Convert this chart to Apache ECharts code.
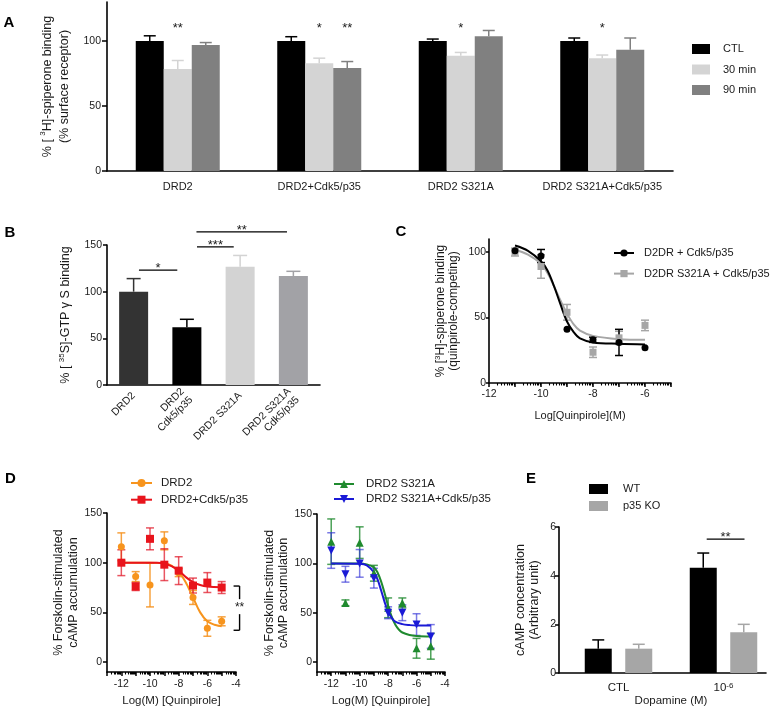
<!DOCTYPE html>
<html><head><meta charset="utf-8">
<script src="https://cdn.jsdelivr.net/npm/echarts@6/dist/echarts.min.js"></script>
<style>html,body{margin:0;padding:0;background:#fff}#c{width:775px;height:712px}</style>
</head><body><div id="c"></div>
<script>
// ---------------- DATA ----------------
// Panel A
const aCategories = ['DRD2', 'DRD2+Cdk5/p35', 'DRD2 S321A', 'DRD2 S321A+Cdk5/p35'];
const aNames = ['CTL', '30 min', '90 min'];
const aCTL = [100, 100, 100, 100];
const aCTLErr = [4, 3.3, 1.5, 2.3];
const a30 = [78.5, 82.8, 88.7, 86.7];
const a30Err = [6.5, 4, 2.5, 2.5];
const a90 = [97, 79.2, 103.6, 93.3];
const a90Err = [1.8, 5, 4.5, 9];
const aYTicks = [0, 50, 100];
const aStarCat = [0, 1, 1, 2, 3];
const aStarBar = [1, 1, 2, 1, 1];
const aStarText = ['**', '*', '**', '*', '*'];
const aStarLevel = [112, 112, 112, 112, 112];

// Panel B
const bCategories = ['DRD2', 'DRD2\nCdk5/p35', 'DRD2 S321A', 'DRD2 S321A\nCdk5/p35'];
const bValues = [100, 61.8, 126.8, 116.8];
const bErr = [14, 8.6, 12, 5];
const bYTicks = [0, 50, 100, 150];
const bSigFrom = [0.1, 1.19, 1.18];
const bSigTo = [0.82, 1.88, 2.88];
const bSigY = [123, 148, 164];
const bSigText = ['*', '***', '**'];

// Panel C
const cX = [-11, -10, -9, -8, -7, -6];
const cBlack = [101, 97, 41, 33, 31, 27];
const cBlackErr = [0, 5, 0, 2, 10, 0];
const cGray = [100, 89, 54, 23.5, 34.5, 44];
const cGrayErr = [3, 9, 6, 4, 5, 4];
const cBlackCurveX = [-11, -10.5, -10, -9.75, -9.5, -9.25, -9, -8.75, -8.5, -8, -7, -6];
const cBlackCurveY = [105, 101, 93, 86, 74, 60, 47, 39, 34, 31, 30, 29.5];
const cGrayCurveX = [-11, -10.5, -10, -9.75, -9.5, -9.25, -9, -8.75, -8.5, -8, -7, -6];
const cGrayCurveY = [102, 98, 91, 84, 74, 63, 53, 45, 40, 36, 33.5, 33];
const cXLabels = [-12, -10, -8, -6];
const cXMajor = [-12, -11, -10, -9, -8, -7, -6, -5];
const cYTicks = [0, 50, 100];

// Panel D
const dX = [-12, -11, -10, -9, -8, -7, -6, -5];
const dOrange = [116, 86, 77.5, 122, 90, 65, 34, 41];
const dOrangeErr = [14, 5, 22, 9, 4, 7, 8, 4.5];
const dRed = [100, 76, 124, 98, 92, 77, 80, 75];
const dRedErr = [13, 4, 11, 16, 14, 7.5, 10, 6];
const dGreen = [122, 60, 121, 90, 55, 60, 14, 16];
const dGreenErr = [23, 3, 16, 8, 10, 5, 10, 13];
const dBlue = [113, 89, 100, 85, 50, 50, 38, 26];
const dBlueErr = [18, 8, 14, 10, 6, 8, 11, 12];
const dOrangeCurveX = [-12, -10, -9, -8.5, -8, -7.5, -7, -6.5, -6, -5.5, -5];
const dOrangeCurveY = [100, 100, 99.5, 97, 91, 80, 65, 50, 41, 37.5, 36];
const dRedCurveX = [-12, -9.5, -9, -8.5, -8, -7.5, -7, -6.5, -6, -5];
const dRedCurveY = [100, 100, 99, 96.5, 92, 85.5, 80.5, 77.5, 76, 75.3];
const dGreenCurveX = [-12, -10, -9.5, -9, -8.75, -8.5, -8.25, -8, -7.75, -7.5, -7.25, -7, -6.5, -6, -5];
const dGreenCurveY = [100, 100, 99, 96, 91, 82, 70, 57, 46, 38, 33, 30, 27.5, 26.5, 26];
const dBlueCurveX = [-12, -10, -9.5, -9, -8.75, -8.5, -8.25, -8, -7.75, -7.5, -7, -6.5, -6, -5];
const dBlueCurveY = [100, 99.5, 98, 91, 84, 73, 61, 51, 45, 41, 38.5, 37.5, 37, 37];
const dXLabels = [-12, -10, -8, -6, -4];
const dXMajor = [-13, -12, -11, -10, -9, -8, -7, -6, -5, -4];
const dYTicks = [0, 50, 100, 150];
const dBracket = [[-3.75, 76.5, 32]];
const dBracketText = ['**'];

// Panel E
const eCategories = ['CTL', '10^-6'];
const eWT = [1.0, 4.33];
const eWTErr = [0.36, 0.6];
const eKO = [1.0, 1.67];
const eKOErr = [0.18, 0.33];
const eYTicks = [0, 2, 4, 6];
const eSigFrom = [0.84];
const eSigTo = [1.2];
const eSigY = [5.5];
const eSigText = ['**'];

// ---------------- HELPERS ----------------
const FONT = 'Liberation Sans, Arial, sans-serif';
const INK = '#1a1a1a';
const zip2 = (xs, ys) => xs.map((x, i) => [x, ys[i]]);
const zip3 = (xs, ys, es) => xs.map((x, i) => [x, ys[i], es[i]]);
const idx = arr => arr.map((_, i) => i);
function logMinor(min, max) {
  const out = [];
  for (let d = Math.floor(min); d < max; d++) {
    for (let k = 2; k <= 9; k++) {
      const v = d + Math.log10(k);
      if (v > min && v < max) out.push(+v.toFixed(4));
    }
  }
  return out;
}
const axisLine = { show: true, onZero: false, lineStyle: { color: '#000', width: 1.6 } };
const tickStyle = { color: '#000', width: 1.5 };
const supRich = { sup: { fontSize: 8, lineHeight: 8, verticalAlign: 'top', fontFamily: FONT, color: INK } };

function errorBars(xi, yi, data, color, offset, cap, up, z) {
  return {
    type: 'custom', xAxisIndex: xi, yAxisIndex: yi, clip: false, silent: true, z: z || 2,
    data: data,
    renderItem: function (params, api) {
      const x = api.value(0), y = api.value(1), e = api.value(2);
      if (!e) return null;
      const c = typeof color === 'function' ? color(params.dataIndex) : color;
      const p = api.coord([x, y]);
      const cx = p[0] + (offset || 0);
      const t = api.coord([x, y + e])[1];
      const b = up ? p[1] : api.coord([x, y - e])[1];
      const st = { stroke: c, lineWidth: 1.5 };
      const ch = [
        { type: 'line', shape: { x1: cx, y1: b, x2: cx, y2: t }, style: st },
        { type: 'line', shape: { x1: cx - cap, y1: t, x2: cx + cap, y2: t }, style: st }
      ];
      if (!up) ch.push({ type: 'line', shape: { x1: cx - cap, y1: b, x2: cx + cap, y2: b }, style: st });
      return { type: 'group', children: ch };
    }
  };
}
function catPx(api, v) {
  const f = Math.floor(v);
  return api.coord([f, 0])[0] + (v - f) * api.size([1, 0])[0];
}
function sigLines(xi, yi, from, to, ys, texts) {
  return {
    type: 'custom', xAxisIndex: xi, yAxisIndex: yi, clip: false, silent: true, z: 5,
    data: from.map((f, i) => [f, to[i], ys[i]]),
    renderItem: function (params, api) {
      const x1 = catPx(api, api.value(0)), x2 = catPx(api, api.value(1));
      const y = api.coord([0, api.value(2)])[1];
      return { type: 'group', children: [
        { type: 'line', shape: { x1: x1, y1: y, x2: x2, y2: y }, style: { stroke: '#000', lineWidth: 1.3 } },
        { type: 'text', x: (x1 + x2) / 2, y: y - 1.5, style: { text: texts[params.dataIndex], fontSize: 13, fontFamily: FONT, fill: INK, textAlign: 'center', textVerticalAlign: 'middle' } }
      ] };
    }
  };
}
function curve(name, xi, yi, xs, ys, color, symbol, rotate) {
  return { type: 'line', name: name, xAxisIndex: xi, yAxisIndex: yi, data: zip2(xs, ys), smooth: 0.35,
    showSymbol: false, symbol: symbol, symbolSize: 7, symbolRotate: rotate || 0, silent: true,
    lineStyle: { color: color, width: 2 }, itemStyle: { color: color }, z: 3 };
}
function points(name, xi, yi, xs, ys, color, symbol, size, rotate) {
  return { type: 'scatter', name: name, xAxisIndex: xi, yAxisIndex: yi, data: zip2(xs, ys),
    symbol: symbol, symbolSize: size, symbolRotate: rotate || 0, silent: true, itemStyle: { color: color, opacity: 1 }, z: 4 };
}
function valueY(gi, min, max, ticks, opts) {
  return Object.assign({
    gridIndex: gi, type: 'value', min: min, max: max, axisLine: axisLine,
    axisTick: { show: true, length: opts.tick || 4, lineStyle: tickStyle, customValues: ticks },
    axisLabel: { customValues: ticks, fontSize: 10.5, color: INK, margin: opts.margin || 5, fontFamily: FONT },
    splitLine: { show: false },
    nameLocation: 'middle', nameRotate: 90
  }, opts.extra || {});
}
function logX(gi, min, max, labels, major) {
  return [{
    gridIndex: gi, type: 'value', min: min, max: max, axisLine: axisLine,
    axisTick: { show: true, length: 4, lineStyle: tickStyle, customValues: major },
    axisLabel: { customValues: labels, fontSize: 10.5, color: INK, margin: 7, fontFamily: FONT },
    splitLine: { show: false }
  }, {
    gridIndex: gi, type: 'value', min: min, max: max, position: 'bottom',
    axisLine: { show: false, onZero: false },
    axisTick: { show: true, length: 2.5, lineStyle: { color: '#000', width: 1.1 }, customValues: logMinor(min, max) },
    axisLabel: { show: false }, splitLine: { show: false }
  }];
}
const nameStyle = (lh) => ({ fontSize: 12.5, lineHeight: lh, color: INK, fontFamily: FONT, rich: supRich });
const legendText = (pad) => ({ fontSize: 11, lineHeight: 14, color: INK, fontFamily: FONT, padding: [0, 0, 0, pad] });

const aColors = ['#000000', '#d4d4d4', '#808080'];
const bColors = ['#333333', '#000000', '#d3d3d3', '#a2a2a6'];
const eColors = ['#000000', '#a6a6a6'];

// ---------------- OPTION ----------------
const [cX0, cX1] = logX(2, -12, -5, cXLabels, cXMajor);
const [d1X0, d1X1] = logX(3, -13, -4, dXLabels, dXMajor);
const [d2X0, d2X1] = logX(4, -13, -4, dXLabels, dXMajor);
cX0.axisLabel.margin = 6;
cX0.name = 'Log[Quinpirole](M)'; cX0.nameLocation = 'middle'; cX0.nameGap = 27;
cX0.nameTextStyle = { fontSize: 11, color: INK, fontFamily: FONT };
[d1X0, d2X0].forEach(a => { a.name = 'Log(M) [Quinpirole]'; a.nameLocation = 'middle'; a.nameGap = 23; a.nameTextStyle = { fontSize: 11.5, color: INK, fontFamily: FONT }; });

const option = {
  animation: false,
  textStyle: { fontFamily: FONT },
  grid: [
    { left: 107, top: 2, width: 566, height: 169, outerBoundsMode: 'none' },
    { left: 107, top: 245, width: 213, height: 140, outerBoundsMode: 'none' },
    { left: 489, top: 239, width: 182, height: 144, outerBoundsMode: 'none' },
    { left: 107, top: 513, width: 129, height: 159, outerBoundsMode: 'none' },
    { left: 317, top: 514, width: 128, height: 158, outerBoundsMode: 'none' },
    { left: 559, top: 527, width: 207, height: 146, outerBoundsMode: 'none' },
    { left: 566, top: 527, width: 210, height: 146, outerBoundsMode: 'none' }
  ],
  xAxis: [
    { gridIndex: 0, type: 'category', data: aCategories, axisLine: axisLine,
      axisTick: { alignWithLabel: true, length: 5, lineStyle: tickStyle },
      axisLabel: { fontSize: 11, color: INK, margin: 10, interval: 0, fontFamily: FONT } },
    { gridIndex: 1, type: 'category', data: bCategories, axisLine: axisLine,
      axisTick: { alignWithLabel: true, length: 5, lineStyle: tickStyle },
      axisLabel: { fontSize: 10.5, lineHeight: 12, color: INK, margin: 9, interval: 0, rotate: 45, fontFamily: FONT, align: 'right' } },
    cX0, cX1, d1X0, d1X1, d2X0, d2X1,
    { gridIndex: 5, type: 'category', data: eCategories, axisLine: axisLine,
      axisTick: { alignWithLabel: true, length: 4, lineStyle: tickStyle },
      axisLabel: { show: false } },
    { gridIndex: 6, type: 'category', data: eCategories, axisLine: { show: false }, axisTick: { show: false },
      axisLabel: { fontSize: 11.5, color: INK, margin: 9, interval: 0, fontFamily: FONT, rich: supRich,
        formatter: v => v.replace(/\^(\S+)/, '{sup|$1}') },
      name: 'Dopamine (M)', nameLocation: 'middle', nameGap: 20, nameTextStyle: { fontSize: 11.5, color: INK, fontFamily: FONT } }
  ],
  yAxis: [
    valueY(0, 0, 130, aYTicks, { tick: 5, margin: 6, extra: { name: '% [ {sup|3}H]-spiperone binding\n(% surface receptor)', nameGap: 26, nameTextStyle: nameStyle(17) } }),
    valueY(1, 0, 150, bYTicks, { tick: 4, margin: 5, extra: { name: '% [ {sup|35}S]-GTP γ S binding', nameGap: 33, nameTextStyle: nameStyle(16) } }),
    valueY(2, 0, 110, cYTicks, { tick: 3, margin: 3, extra: { name: '% [{sup|3}H]-spiperone binding\n(quinpirole-competing)', nameGap: 29, nameTextStyle: Object.assign(nameStyle(13), { fontSize: 12 }) } }),
    valueY(3, -10, 150, dYTicks, { tick: 4, margin: 5, extra: { name: '% Forskolin-stimulated\ncAMP accumulation', nameGap: 26, nameTextStyle: nameStyle(14.5) } }),
    valueY(4, -10, 150, dYTicks, { tick: 4, margin: 5, extra: { name: '% Forskolin-stimulated\ncAMP accumulation', nameGap: 26, nameTextStyle: nameStyle(14) } }),
    valueY(5, 0, 6, eYTicks, { tick: 4, margin: 3, extra: { name: 'cAMP concentration\n(Arbitrary unit)', nameGap: 17, nameTextStyle: nameStyle(14) } }),
    { gridIndex: 6, type: 'value', min: 0, max: 6, show: false }
  ],
  legend: [
    { data: aNames, left: 692, top: 42, orient: 'vertical', padding: 0, itemGap: 6.5, itemWidth: 18, itemHeight: 10, icon: 'rect', textStyle: legendText(8), selectedMode: false },
    { data: ['D2DR + Cdk5/p35', 'D2DR S321A + Cdk5/p35'], left: 613, top: 246, orient: 'vertical', padding: 0, itemGap: 6.6, itemWidth: 20, itemHeight: 9, textStyle: legendText(5), selectedMode: false },
    { data: ['DRD2', 'DRD2+Cdk5/p35'], left: 130, top: 476, orient: 'vertical', padding: 0, itemGap: 2.7, itemWidth: 21, itemHeight: 10, textStyle: Object.assign(legendText(4), { fontSize: 11.5 }), selectedMode: false },
    { data: ['DRD2 S321A', 'DRD2 S321A+Cdk5/p35'], left: 333, top: 477, orient: 'vertical', padding: 0, itemGap: 1, itemWidth: 20, itemHeight: 10, textStyle: Object.assign(legendText(7), { fontSize: 11.5 }), selectedMode: false },
    { data: ['WT', 'p35 KO'], left: 589, top: 482, orient: 'vertical', padding: 0, itemGap: 3, itemWidth: 19, itemHeight: 10, icon: 'rect', textStyle: legendText(10), selectedMode: false }
  ],
  graphic: [
    { type: 'text', x: 9, y: 23, style: { text: 'A', fontSize: 15, fontWeight: 'bold', fontFamily: FONT, fill: '#000', textAlign: 'center', textVerticalAlign: 'middle' } },
    { type: 'text', x: 10, y: 233, style: { text: 'B', fontSize: 15, fontWeight: 'bold', fontFamily: FONT, fill: '#000', textAlign: 'center', textVerticalAlign: 'middle' } },
    { type: 'text', x: 401, y: 232, style: { text: 'C', fontSize: 15, fontWeight: 'bold', fontFamily: FONT, fill: '#000', textAlign: 'center', textVerticalAlign: 'middle' } },
    { type: 'text', x: 10.5, y: 479, style: { text: 'D', fontSize: 15, fontWeight: 'bold', fontFamily: FONT, fill: '#000', textAlign: 'center', textVerticalAlign: 'middle' } },
    { type: 'text', x: 531, y: 479, style: { text: 'E', fontSize: 15, fontWeight: 'bold', fontFamily: FONT, fill: '#000', textAlign: 'center', textVerticalAlign: 'middle' } }
  ],
  series: [
    // ----- A -----
    { type: 'bar', name: aNames[0], xAxisIndex: 0, yAxisIndex: 0, data: aCTL, barWidth: 28, barGap: '0%', itemStyle: { color: aColors[0] }, silent: true },
    { type: 'bar', name: aNames[1], xAxisIndex: 0, yAxisIndex: 0, data: a30, barWidth: 28, barGap: '0%', itemStyle: { color: aColors[1] }, silent: true },
    { type: 'bar', name: aNames[2], xAxisIndex: 0, yAxisIndex: 0, data: a90, barWidth: 28, barGap: '0%', itemStyle: { color: aColors[2] }, silent: true },
    errorBars(0, 0, zip3(idx(aCTL), aCTL, aCTLErr), aColors[0], -28, 6, true),
    errorBars(0, 0, zip3(idx(a30), a30, a30Err), aColors[1], 0, 6, true),
    errorBars(0, 0, zip3(idx(a90), a90, a90Err), aColors[2], 28, 6, true),
    { type: 'custom', xAxisIndex: 0, yAxisIndex: 0, clip: false, silent: true, z: 5,
      data: aStarCat.map((c, i) => [c, aStarBar[i], aStarLevel[i]]),
      renderItem: function (params, api) {
        const p = api.coord([api.value(0), api.value(2)]);
        return { type: 'text', x: p[0] + (api.value(1) - 1) * 28, y: p[1] + 3,
          style: { text: aStarText[params.dataIndex], fontSize: 13, fontFamily: FONT, fill: INK, textAlign: 'center', textVerticalAlign: 'middle' } };
      } },
    // ----- B -----
    { type: 'bar', name: 'GTPgS', xAxisIndex: 1, yAxisIndex: 1, barWidth: 29, silent: true,
      data: bValues.map((v, i) => ({ value: v, itemStyle: { color: bColors[i] } })) },
    errorBars(1, 1, zip3(idx(bValues), bValues, bErr), i => bColors[i], 0, 7, true),
    sigLines(1, 1, bSigFrom, bSigTo, bSigY, bSigText),
    // ----- C -----
    errorBars(2, 2, zip3(cX, cGray, cGrayErr), '#a6a6a6', 0, 4, false),
    errorBars(2, 2, zip3(cX, cBlack, cBlackErr), '#000000', 0, 4, false),
    curve('D2DR S321A + Cdk5/p35', 2, 2, cGrayCurveX, cGrayCurveY, '#a6a6a6', 'rect'),
    curve('D2DR + Cdk5/p35', 2, 2, cBlackCurveX, cBlackCurveY, '#000000', 'circle'),
    points('C gray pts', 2, 2, cX, cGray, '#a6a6a6', 'rect', 7),
    points('C black pts', 2, 2, cX, cBlack, '#000000', 'circle', 7),
    // ----- D left -----
    errorBars(4, 3, zip3(dX, dOrange, dOrangeErr), 'rgba(245,146,30,0.85)', 0, 4, false),
    errorBars(4, 3, zip3(dX, dRed, dRedErr), 'rgba(226,30,45,0.75)', 0, 4, false),
    curve('DRD2', 4, 3, dOrangeCurveX, dOrangeCurveY, '#f7941d', 'circle'),
    curve('DRD2+Cdk5/p35', 4, 3, dRedCurveX, dRedCurveY, '#e8141c', 'rect'),
    points('D orange pts', 4, 3, dX, dOrange, '#f7941d', 'circle', 7),
    points('D red pts', 4, 3, dX, dRed, '#e8141c', 'rect', 8),
    { type: 'custom', xAxisIndex: 4, yAxisIndex: 3, clip: false, silent: true, z: 5, data: dBracket,
      renderItem: function (params, api) {
        const x = api.coord([api.value(0), 0])[0];
        const t = api.coord([0, api.value(1)])[1], b = api.coord([0, api.value(2)])[1];
        const m = (t + b) / 2;
        const st = { stroke: '#000', lineWidth: 1.4 };
        return { type: 'group', children: [
          { type: 'line', shape: { x1: x - 6, y1: t, x2: x, y2: t }, style: st },
          { type: 'line', shape: { x1: x, y1: t, x2: x, y2: m - 9 }, style: st },
          { type: 'line', shape: { x1: x, y1: m + 6, x2: x, y2: b }, style: st },
          { type: 'line', shape: { x1: x - 6, y1: b, x2: x, y2: b }, style: st },
          { type: 'text', x: x, y: m, style: { text: dBracketText[params.dataIndex], fontSize: 12, fontFamily: FONT, fill: INK, textAlign: 'center', textVerticalAlign: 'middle' } }
        ] };
      } },
    // ----- D right -----
    errorBars(6, 4, zip3(dX, dGreen, dGreenErr), 'rgba(31,138,46,0.8)', 0, 4, false),
    errorBars(6, 4, zip3(dX, dBlue, dBlueErr), 'rgba(50,50,215,0.65)', 0, 4, false),
    curve('DRD2 S321A', 6, 4, dGreenCurveX, dGreenCurveY, '#1f8a2e', 'triangle'),
    curve('DRD2 S321A+Cdk5/p35', 6, 4, dBlueCurveX, dBlueCurveY, '#1a1ad6', 'triangle', 180),
    points('D green pts', 6, 4, dX, dGreen, '#1f8a2e', 'triangle', 8),
    points('D blue pts', 6, 4, dX, dBlue, '#1a1ad6', 'triangle', 8, 180),
    // ----- E -----
    { type: 'bar', name: 'WT', xAxisIndex: 9, yAxisIndex: 6, data: eWT, barWidth: 27, barGap: '50%', itemStyle: { color: eColors[0] }, silent: true },
    { type: 'bar', name: 'p35 KO', xAxisIndex: 9, yAxisIndex: 6, data: eKO, barWidth: 27, barGap: '50%', itemStyle: { color: eColors[1] }, silent: true },
    errorBars(9, 6, zip3(idx(eWT), eWT, eWTErr), eColors[0], -20.25, 6, true),
    errorBars(9, 6, zip3(idx(eKO), eKO, eKOErr), eColors[1], 20.25, 6, true),
    sigLines(9, 6, eSigFrom, eSigTo, eSigY, eSigText)
  ]
};
const chart = echarts.init(document.getElementById('c'));
chart.setOption(option);
</script>
</body></html>
